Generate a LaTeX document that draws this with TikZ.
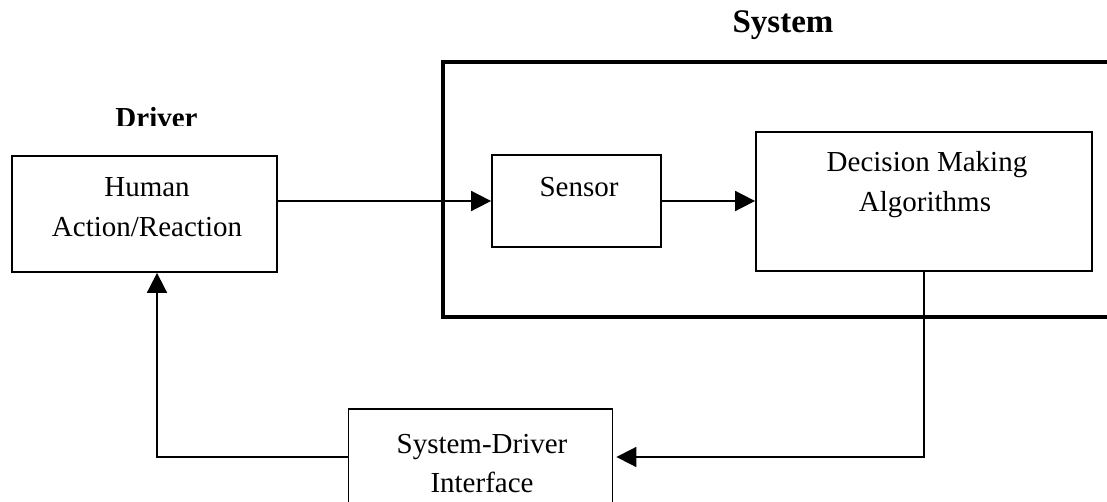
\documentclass[tikz,border=0pt]{standalone}
\usepackage{fontspec}
\setmainfont{Liberation Serif}
\usetikzlibrary{arrows.meta}
\begin{document}
\begin{tikzpicture}[x=1pt,y=-1pt,
  box/.style={draw, line width=1.8pt, inner sep=0pt, rectangle},
  txt/.style={anchor=base, inner sep=0pt, font=\fontsize{29}{40}\selectfont},
  ttl/.style={anchor=base, inner sep=0pt, font=\bfseries\fontsize{33}{40}\selectfont},
  conn/.style={line width=1.8pt},
  arr/.style={conn, -{Triangle[length=20pt,width=20pt]}},
  frame/.style={line width=4pt, line cap=rect}
]
\useasboundingbox (0,0) rectangle (1107,502);
\clip (0,0) rectangle (1107,502);

% system frame
\coordinate (sysTR) at (1110,62);
\coordinate (sysTL) at (443,62);
\coordinate (sysBL) at (443,317);
\coordinate (sysBR) at (1110,317);
\draw[frame] (sysTR) -- (sysTL) -- (sysBL) -- (sysBR);

% boxes
\node[box, minimum width=265pt, minimum height=116pt] (human) at (144.5,214) {};
\node[box, minimum width=169pt, minimum height=92pt] (sensor) at (576.5,201) {};
\node[box, minimum width=336pt, minimum height=139pt] (decision) at (924,201.5) {};
\node[box, minimum width=264pt, minimum height=96pt] (interface) at (480.5,457) {};

% texts
\node[txt] (h1) at (147,197) {Human};
\node[txt] (h2) at (147,237) {Action/Reaction};
\node[txt] (s1) at (579,197) {Sensor};
\node[txt] (d1) at (927,172) {Decision Making};
\node[txt] (d2) at (925,212) {Algorithms};
\node[txt] (i1) at (482,453) {System-Driver};
\node[txt] (i2) at (482,492) {Interface};

% titles
\node[ttl] (systitle) at (783,33) {System};
\begin{scope}
  \clip (0,90) rectangle (1107,126);
  \node[ttl, font=\bfseries\fontsize{29}{40}\selectfont] (drivertitle) at (156.5,127.5) {Driver};
\end{scope}

% connectors
\draw[arr] (human.east |- sensor.west) -- (sensor.west);
\draw[arr] (sensor.east) -- (sensor.east -| decision.west);
\draw[arr, shorten >=3pt] (decision.south) -- (decision.south |- interface.east) -- (interface.east);
\coordinate (loopc) at (157,457);
\draw[arr] (interface.west) -- (loopc) -- (loopc |- human.south);
\end{tikzpicture}
\end{document}
